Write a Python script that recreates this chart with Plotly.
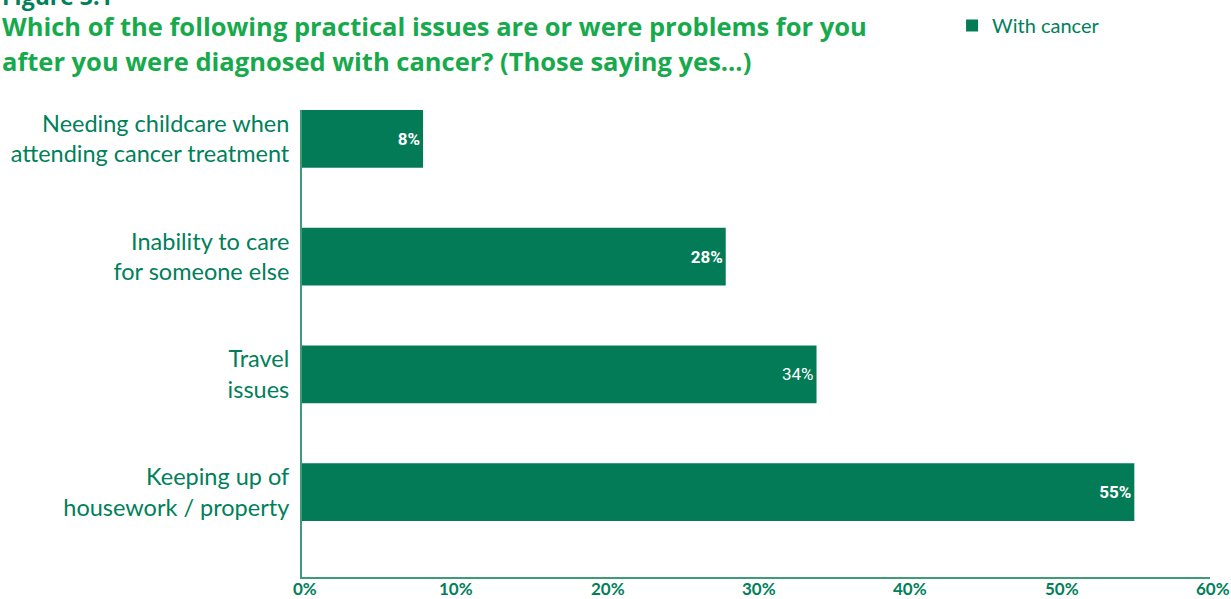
import plotly.graph_objects as go

# Survey categories (top to bottom) and share saying yes (%)
categories = [
    "Needing childcare when<br>attending cancer treatment",
    "Inability to care<br>for someone else",
    "Travel<br>issues",
    "Keeping up of<br>housework / property",
]
values = [8, 28, 34, 55]
label_bold = [True, True, False, True]
tick_vals = [0, 10, 20, 30, 40, 50, 60]
tick_text = ["0%", "10%", "20%", "30%", "40%", "50%", "60%"]
series_name = "With cancer"

BAR = "#037B56"
DARK = "#00805A"
TITLE = "#17AA4C"
AXIS = "#3F9A78"
FONT = "Lato"
TITLE_FONT = "Open Sans"

labels = [f"<b>{v}%</b>" if b else f"{v}%" for v, b in zip(values, label_bold)]

fig = go.Figure()
fig.add_trace(go.Bar(
    x=values,
    y=categories,
    orientation="h",
    name=series_name,
    marker=dict(color=BAR, line=dict(width=0)),
    width=0.49,
    text=labels,
    textposition="inside",
    insidetextanchor="end",
    textangle=0,
    textfont=dict(family="Roboto", size=17, color="white"),
    cliponaxis=False,
))

# x tick labels sit tight under the axis line, placed on the x scale
tick_annotations = [
    dict(text=f"<b>{t}</b>", x=v, xref="x", y=0, yref="paper",
         xanchor="center", yanchor="top", yshift=0, xshift=3, borderpad=0,
         showarrow=False, font=dict(family=FONT, size=17, color=DARK))
    for v, t in zip(tick_vals, tick_text)
]

title_annotations = [
    dict(text="<b>Figure 3.1</b>", xref="paper", yref="paper",
         x=-0.331, y=1.2077, xanchor="left", yanchor="bottom", borderpad=0,
         showarrow=False, font=dict(family=TITLE_FONT, size=23, color=DARK)),
    dict(text="<b>Which of the following practical issues are or were problems for you</b>",
         xref="paper", yref="paper", x=-0.331, y=1.1799,
         xanchor="left", yanchor="middle", showarrow=False, borderpad=0,
         font=dict(family=TITLE_FONT, size=25.5, color=TITLE)),
    dict(text="<b>after you were diagnosed with cancer? (Those saying yes...)</b>",
         xref="paper", yref="paper", x=-0.331, y=1.1049,
         xanchor="left", yanchor="middle", showarrow=False, borderpad=0,
         font=dict(family=TITLE_FONT, size=25.5, color=TITLE)),
]

fig.update_layout(
    width=1231,
    height=599,
    paper_bgcolor="white",
    plot_bgcolor="white",
    margin=dict(l=302, r=21, t=110, b=22, autoexpand=False),
    font=dict(family=FONT, color=DARK),
    showlegend=True,
    legend=dict(
        xref="container", yref="container",
        x=0.7734, y=0.99, xanchor="left", yanchor="top",
        font=dict(family=FONT, size=20, color=DARK),
        bgcolor="rgba(0,0,0,0)",
        itemwidth=30,
    ),
    xaxis=dict(
        range=[0, 60],
        tickvals=tick_vals,
        showticklabels=False,
        showgrid=False,
        zeroline=False,
        showline=True,
        linecolor=AXIS,
        linewidth=2,
        ticks="",
        automargin=False,
        fixedrange=True,
    ),
    yaxis=dict(
        categoryorder="array",
        categoryarray=categories,
        range=[3.72, -0.246],
        showgrid=False,
        zeroline=False,
        showline=True,
        linecolor=AXIS,
        linewidth=2,
        ticks="",
        ticklabelstandoff=6,
        automargin=False,
        tickfont=dict(family=FONT, size=23.5, color=DARK),
        fixedrange=True,
    ),
    annotations=title_annotations + tick_annotations,
)

fig.write_html("out.html")
